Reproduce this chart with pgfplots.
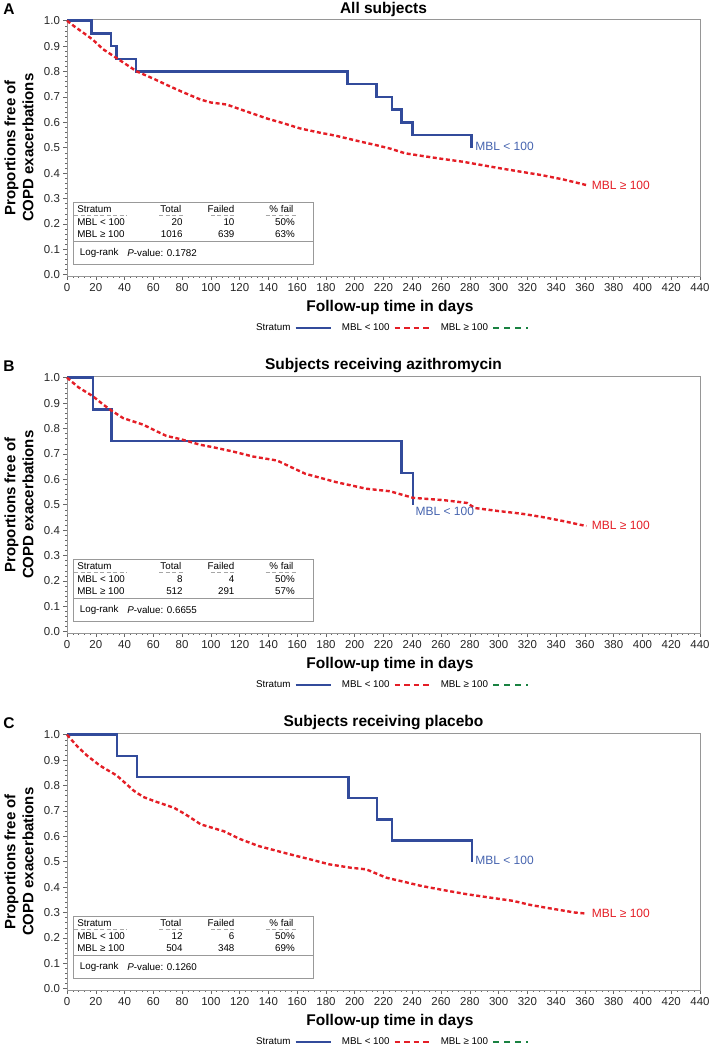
\documentclass[border=0pt]{standalone}
\usepackage{fontspec}
\setmainfont{Liberation Sans}
\usepackage{pgfplots}
\pgfplotsset{compat=1.18}
\definecolor{kmblue}{RGB}{50,75,155}
\definecolor{lblblue}{RGB}{70,100,175}
\definecolor{kmred}{RGB}{228,30,38}
\definecolor{kmgreen}{RGB}{25,130,65}
\definecolor{framegray}{RGB}{150,150,150}
\newcommand{\tabfont}{\fontsize{9.8}{11}\selectfont}
\pgfplotsset{
 kmaxis/.style={
  scale only axis, width=633pt, height=256.7pt,
  xmin=0, xmax=440, ymin=-0.005, ymax=1.0055,
  xtick={0,20,...,440},
  ytick={0,0.1,0.2,0.3,0.4,0.5,0.6,0.7,0.8,0.9,1.0},
  minor x tick num=4, minor y tick num=4,
  yticklabel style={/pgf/number format/fixed,/pgf/number format/fixed zerofill,/pgf/number format/precision=1},
  tick label style={font=\fontsize{11.5}{13}\selectfont, text=black!85},
  /pgf/number format/assume math mode=true,
  axis line style={framegray, line width=0.6pt},
  every tick/.style={black!60, line width=0.5pt},
  major tick length=3.5pt, minor tick length=1.6pt,
  tick align=outside, xtick pos=bottom, ytick pos=left,
  clip=false,
  legend plot pos=right,
  legend columns=3,
  legend style={at={(0.513,-0.2026)}, anchor=center, draw=none, fill=none,
    font=\tabfont, inner sep=0pt,
    /tikz/every odd column/.append style={column sep=2pt},
    /tikz/every even column/.append style={column sep=8pt}},
  legend image code/.code={\draw[##1] (0pt,0pt) -- (35pt,0pt);},
 },
 bluecurve/.style={kmblue, line width=2.5pt, line join=miter, line cap=butt, const plot, forget plot},
 redcurve/.style={kmred, line width=2.4pt, dash pattern=on 4pt off 2.6pt, forget plot},
}
% stats table drawn in axis coordinates
\newcommand{\kmtable}[7]{%
  \draw[gray!80, line width=0.5pt] (axis cs:4.5,0.041) rectangle (axis cs:171,0.286);
  \draw[gray!80, line width=0.5pt] (axis cs:4.5,0.131) -- (axis cs:171,0.131);
  \node[anchor=west, font=\tabfont, inner sep=0pt] at (axis cs:7,0.257) {Stratum};
  \node[anchor=east, font=\tabfont, inner sep=0pt] at (axis cs:79.5,0.257) {Total};
  \node[anchor=east, font=\tabfont, inner sep=0pt] at (axis cs:116.5,0.257) {Failed};
  \node[anchor=east, font=\tabfont, inner sep=0pt] at (axis cs:157.5,0.257) {\% fail};
  \draw[gray!70, line width=0.5pt, dash pattern=on 4pt off 2.5pt] (axis cs:5,0.236) -- (axis cs:42,0.236);
  \draw[gray!70, line width=0.5pt, dash pattern=on 4pt off 2.5pt] (axis cs:64,0.236) -- (axis cs:80.5,0.236);
  \draw[gray!70, line width=0.5pt, dash pattern=on 4pt off 2.5pt] (axis cs:100,0.236) -- (axis cs:118,0.236);
  \draw[gray!70, line width=0.5pt, dash pattern=on 4pt off 2.5pt] (axis cs:138,0.236) -- (axis cs:160,0.236);
  \node[anchor=west, font=\tabfont, inner sep=0pt] at (axis cs:7,0.206) {MBL < 100};
  \node[anchor=west, font=\tabfont, inner sep=0pt] at (axis cs:7,0.159) {MBL ≥ 100};
  \node[anchor=east, font=\tabfont, inner sep=0pt] at (axis cs:80.5,0.206) {#1};
  \node[anchor=east, font=\tabfont, inner sep=0pt] at (axis cs:80.5,0.159) {#2};
  \node[anchor=east, font=\tabfont, inner sep=0pt] at (axis cs:116.5,0.206) {#3};
  \node[anchor=east, font=\tabfont, inner sep=0pt] at (axis cs:116.5,0.159) {#4};
  \node[anchor=east, font=\tabfont, inner sep=0pt] at (axis cs:158.5,0.206) {#5};
  \node[anchor=east, font=\tabfont, inner sep=0pt] at (axis cs:158.5,0.159) {#6};
  \node[anchor=west, font=\tabfont, inner sep=0pt] at (axis cs:8.8,0.085) {Log-rank};
  \node[anchor=west, font=\tabfont, inner sep=0pt] at (axis cs:41.8,0.085) {\textit{P}-value: #7};
}
\newcommand{\kmlegend}{%
  \addlegendimage{kmblue, line width=2.4pt}
  \addlegendentry{Stratum}
  \addlegendimage{kmred, line width=2.2pt, dash pattern=on 5.5pt off 4pt}
  \addlegendentry{MBL < 100}
  \addlegendimage{kmgreen, line width=2.2pt, dash pattern=on 6pt off 5pt}
  \addlegendentry{MBL ≥ 100}
}
\newcommand{\ylab}{\fontsize{15}{18}\selectfont\bfseries}

\begin{document}
\begin{tikzpicture}
\path[use as bounding box] (0pt,0pt) rectangle (710pt,-1051pt);

% ================= Panel A =================
\node[font=\fontsize{15.5}{18}\selectfont\bfseries] at (9pt,-9pt) {A};
\node[font=\fontsize{15.5}{18}\selectfont\bfseries] at (383.5pt,-9pt) {All subjects};
\node[rotate=90, align=center, font=\ylab] at (19pt,-147.7pt) {Proportions free of\\COPD exacerbations};
\node[font=\fontsize{15.5}{18}\selectfont\bfseries] at (390pt,-307pt) {Follow-up time in days};
\begin{axis}[kmaxis, at={(67pt,-276pt)}, anchor=south west]
\addplot[bluecurve] coordinates {
 (0,1.00) (17,0.95) (30.5,0.90) (34.5,0.85) (48,0.80) (195,0.75) (215,0.70)
 (226,0.65) (232.5,0.60) (240,0.55) (281,0.50)};
\addplot[redcurve] table {
x y
0 1.000
5 0.978
10 0.958
17.8 0.926
25 0.888
34.7 0.852
48.6 0.800
60 0.772
69.4 0.747
80 0.720
92.6 0.690
100 0.678
111 0.670
120 0.652
139 0.615
150 0.597
162 0.576
175 0.560
187 0.547
204 0.524
215 0.510
225 0.496
235 0.478
250 0.465
262 0.455
275 0.445
290 0.430
300 0.420
316 0.405
330 0.392
345 0.375
361 0.353
};
\kmlegend
\node[anchor=west, text=lblblue, font=\fontsize{12}{14}\selectfont, inner sep=1pt] at (axis cs:283,0.505) {MBL < 100};
\node[anchor=west, text=kmred, font=\fontsize{12}{14}\selectfont, inner sep=1pt] at (axis cs:364,0.353) {MBL ≥ 100};
\kmtable{20}{1016}{10}{639}{50\%}{63\%}{0.1782}
\end{axis}

% ================= Panel B =================
\node[font=\fontsize{15.5}{18}\selectfont\bfseries] at (9pt,-366pt) {B};
\node[font=\fontsize{15.5}{18}\selectfont\bfseries] at (383.5pt,-366pt) {Subjects receiving azithromycin};
\node[rotate=90, align=center, font=\ylab] at (19pt,-504.7pt) {Proportions free of\\COPD exacerbations};
\node[font=\fontsize{15.5}{18}\selectfont\bfseries] at (390pt,-664pt) {Follow-up time in days};
\begin{axis}[kmaxis, at={(67pt,-633pt)}, anchor=south west]
\addplot[bluecurve] coordinates {
 (0,1.00) (18,0.875) (30.8,0.75) (232.5,0.625) (240.5,0.50)};
\addplot[redcurve] table {
x y
0 1.000
8 0.962
18 0.927
25 0.895
30.8 0.871
39 0.841
53 0.815
62 0.790
69 0.771
79 0.758
92.6 0.736
101 0.727
115.7 0.709
129 0.690
146 0.674
155 0.650
165.6 0.622
187 0.589
208 0.563
224.5 0.553
240.6 0.527
262 0.518
278 0.507
283.5 0.487
300 0.475
315.6 0.465
330 0.452
342 0.439
361 0.416
};
\kmlegend
\node[anchor=west, text=lblblue, font=\fontsize{12}{14}\selectfont, inner sep=1pt] at (axis cs:241.5,0.472) {MBL < 100};
\node[anchor=west, text=kmred, font=\fontsize{12}{14}\selectfont, inner sep=1pt] at (axis cs:364,0.418) {MBL ≥ 100};
\kmtable{8}{512}{4}{291}{50\%}{57\%}{0.6655}
\end{axis}

% ================= Panel C =================
\node[font=\fontsize{15.5}{18}\selectfont\bfseries] at (9pt,-723pt) {C};
\node[font=\fontsize{15.5}{18}\selectfont\bfseries] at (383.5pt,-723pt) {Subjects receiving placebo};
\node[rotate=90, align=center, font=\ylab] at (19pt,-861.7pt) {Proportions free of\\COPD exacerbations};
\node[font=\fontsize{15.5}{18}\selectfont\bfseries] at (390pt,-1021pt) {Follow-up time in days};
\begin{axis}[kmaxis, at={(67pt,-990pt)}, anchor=south west]
\addplot[bluecurve] coordinates {
 (0,1.00) (34.7,0.917) (48.6,0.833) (195.6,0.75) (215.4,0.667) (226,0.583) (281.6,0.50)};
\addplot[redcurve] table {
x y
0 1.000
7 0.955
13.9 0.918
23 0.878
34.7 0.839
46.3 0.780
53 0.755
61 0.738
74.5 0.712
82.5 0.686
93 0.647
109 0.620
120 0.590
133 0.562
155 0.529
170 0.508
182 0.490
197.7 0.476
208 0.470
222 0.437
235 0.420
246 0.405
262 0.388
278 0.372
295 0.358
310 0.346
322 0.330
332 0.320
353 0.300
361 0.296
};
\kmlegend
\node[anchor=west, text=lblblue, font=\fontsize{12}{14}\selectfont, inner sep=1pt] at (axis cs:283,0.505) {MBL < 100};
\node[anchor=west, text=kmred, font=\fontsize{12}{14}\selectfont, inner sep=1pt] at (axis cs:364,0.298) {MBL ≥ 100};
\kmtable{12}{504}{6}{348}{50\%}{69\%}{0.1260}
\end{axis}
\end{tikzpicture}
\end{document}
